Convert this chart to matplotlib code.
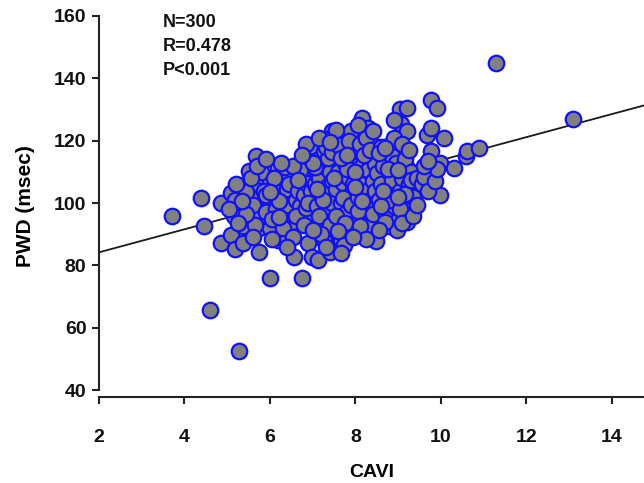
import matplotlib.pyplot as plt

plt.rcParams['font.family'] = ['Liberation Sans', 'DejaVu Sans']

# CAVI vs PWD
cavi = [
    3.70, 4.38, 4.45, 4.60, 5.27, 4.86, 4.86, 5.10, 5.17, 5.10, 5.18, 5.19, 5.37, 5.37, 5.37,
    5.50, 5.50, 5.67, 5.67, 5.74, 5.74, 5.74, 5.77, 5.82, 5.53, 5.58, 5.99, 5.99, 5.99, 6.06,
    5.97, 6.19, 6.19, 6.25, 6.25, 6.38, 6.49, 6.49, 6.51, 6.51, 6.57, 6.57, 6.76, 6.76, 6.76,
    6.76, 6.88, 6.90, 6.93, 6.98, 6.99, 6.99, 7.02, 7.09, 7.12, 7.15, 7.20, 7.22, 7.26, 7.26,
    7.26, 7.36, 7.41, 7.41, 7.46, 7.48, 7.51, 7.53, 7.58, 7.65, 7.65, 7.74, 7.82, 7.89, 7.89,
    7.89, 7.92, 7.96, 8.03, 8.08, 8.08, 8.15, 8.15, 8.21, 8.30, 8.30, 8.32, 8.37, 8.42, 8.42,
    8.47, 8.47, 8.50, 8.52, 8.76, 8.79, 8.79, 8.90, 8.95, 8.98, 8.98, 8.98, 8.98, 9.05, 9.07,
    9.14, 9.21, 9.21, 9.21, 9.24, 9.38, 9.72, 9.77, 9.77, 9.79, 9.67, 9.77, 9.91, 9.98, 9.98,
    10.06, 10.30, 10.59, 10.62, 10.88, 11.28, 13.09,
    5.45, 5.60, 5.85, 5.90, 5.65, 5.45, 5.80, 5.55, 5.90, 5.35,
    6.10, 6.15, 6.20, 6.30, 6.35, 6.40, 6.45, 6.05, 6.30, 6.40, 6.20, 6.10, 6.45, 6.35, 6.00,
    6.60, 6.65, 6.70, 6.75, 6.80, 6.85, 6.90, 6.95, 6.60, 6.70, 6.85, 6.95, 6.55, 6.80, 6.90, 6.65,
    7.05, 7.10, 7.15, 7.20, 7.25, 7.30, 7.35, 7.40, 7.45, 7.05, 7.15, 7.25, 7.35, 7.45, 7.10,
    7.30, 7.40, 7.20, 7.45, 7.00,
    7.55, 7.60, 7.65, 7.70, 7.75, 7.80, 7.85, 7.90, 7.95, 7.55, 7.60, 7.70, 7.80, 7.90, 7.95,
    7.65, 7.75, 7.85, 7.50, 7.60,
    8.05, 8.10, 8.15, 8.20, 8.25, 8.30, 8.35, 8.40, 8.45, 8.05, 8.10, 8.20, 8.30, 8.40, 8.45,
    8.00, 8.15, 8.25, 8.35, 8.50, 8.00,
    8.55, 8.60, 8.65, 8.70, 8.75, 8.80, 8.85, 8.90, 8.95, 8.60, 8.70, 8.80, 8.85, 8.95, 8.65,
    8.55, 8.90, 8.75,
    9.05, 9.10, 9.15, 9.20, 9.25, 9.30, 9.35, 9.05, 9.10, 9.20, 9.15, 9.30, 9.00, 9.45, 9.10, 9.25,
    9.55, 9.60, 9.70, 9.85, 9.90,
    5.05, 5.20, 5.25,
    6.25, 7.00, 7.30, 8.10, 6.55, 8.60, 9.00, 7.80, 6.85, 7.55, 8.40, 8.90, 9.60, 5.70, 6.05,
    7.15, 8.25, 7.95, 9.35, 6.40, 5.90, 7.65, 8.70, 9.45, 6.75, 8.05, 7.40, 6.20, 5.60, 8.55, 9.70,
]
pwd = [
    95.7, 101.6, 92.7, 65.7, 52.5, 100.0, 87.1, 103.2, 95.7, 89.8, 85.2, 101.1, 92.5, 87.1, 105.9,
    110.2, 97.9, 115.0, 105.4, 84.4, 91.9, 95.7, 101.1, 108.6, 102.1, 95.7, 106.5, 91.9, 75.9, 100.0,
    101.1, 111.3, 88.2, 107.5, 94.1, 88.2, 103.2, 98.4, 91.4, 93.8, 107.5, 82.6, 75.9, 112.9, 105.9,
    96.8, 116.1, 87.1, 101.1, 118.2, 97.3, 82.8, 109.1, 103.2, 81.8, 114.0, 94.6, 91.4, 116.6, 109.1,
    88.2, 102.1, 103.2, 84.4, 123.0, 121.4, 94.1, 112.9, 98.9, 88.2, 103.2, 86.6, 106.5, 123.0, 112.9,
    91.9, 100.0, 103.8, 116.6, 109.6, 95.7, 127.3, 90.3, 107.5, 124.1, 120.9, 115.5, 98.9, 118.2, 102.1,
    87.7, 108.6, 95.7, 114.0, 118.2, 105.4, 92.5, 101.6, 118.8, 116.6, 111.8, 94.6, 91.4, 130.0, 125.2,
    96.8, 130.5, 123.0, 111.3, 96.8, 104.9, 106.5, 133.2, 116.6, 109.6, 121.9, 124.1, 130.5, 112.9, 102.7,
    120.9, 111.3, 115.0, 116.6, 117.7, 145.0, 127.1,
    103.5, 99.5, 104.0, 97.0, 93.0, 96.5, 110.0, 108.0, 102.5, 100.5,
    103.0, 98.0, 105.5, 101.0, 96.5, 104.5, 109.0, 95.0, 92.0, 99.5, 100.5, 108.0, 106.0, 111.5, 103.5,
    101.0, 104.0, 99.0, 109.0, 102.5, 106.5, 113.0, 95.0, 96.0, 110.5, 98.5, 104.0, 112.0, 93.0, 100.0, 107.5,
    106.0, 99.0, 108.0, 103.0, 112.0, 97.0, 105.5, 110.0, 100.0, 111.5, 96.0, 101.0, 114.5, 107.0, 104.5,
    118.0, 93.0, 90.0, 116.5, 113.0,
    104.5, 110.0, 100.0, 106.5, 113.0, 97.0, 108.0, 103.0, 117.0, 96.0, 118.5, 101.5, 111.0, 99.5, 106.0,
    114.5, 93.5, 120.0, 108.0, 91.0,
    102.0, 106.0, 112.0, 98.0, 104.0, 110.5, 101.0, 107.0, 112.5, 97.5, 119.0, 115.5, 93.0, 96.5, 104.0,
    110.0, 100.5, 121.0, 117.0, 109.5, 105.0,
    101.0, 106.0, 112.0, 97.0, 103.5, 109.5, 115.0, 99.0, 106.0, 118.0, 94.0, 101.0, 107.5, 113.0, 104.0,
    116.0, 121.0, 111.0,
    104.0, 108.0, 114.0, 100.0, 106.0, 110.0, 102.0, 98.0, 119.0, 94.0, 103.0, 107.5, 110.5, 108.0, 93.5, 117.0,
    106.0, 108.5, 104.0, 107.0, 111.0,
    98.0, 106.0, 93.5,
    113.0, 91.5, 86.0, 92.5, 89.0, 99.0, 102.0, 115.5, 119.0, 123.5, 123.0, 126.5, 112.0, 112.0, 88.5,
    121.0, 88.5, 89.0, 96.0, 86.0, 114.0, 84.0, 117.5, 99.5, 115.5, 125.0, 119.5, 95.5, 89.0, 91.5, 113.5,
]

# regression line end points
fit_x = [2.0, 14.75]
fit_y = [84.2, 131.3]

stats_lines = ['N=300', 'R=0.478', 'P<0.001']
x_ticks = [2, 4, 6, 8, 10, 12, 14]
y_ticks = [40, 60, 80, 100, 120, 140, 160]

fig = plt.figure(figsize=(6.44, 4.83), dpi=100)
ax = fig.add_axes([0.1537, 0.178, 0.8463, 0.789])

ax.plot(fit_x, fit_y, color='#1a1a1a', linewidth=1.3, zorder=1)
ax.scatter(cavi, pwd, s=125, facecolor='#808080', edgecolor='#1010ff', linewidth=1.6, zorder=2)

ax.set_xlim(2, 14.75)
ax.set_ylim(37.8, 160)
ax.set_xticks(x_ticks)
ax.set_yticks(y_ticks)

for s in ['top', 'right']:
    ax.spines[s].set_visible(False)
ax.spines['left'].set_bounds(40, 160)
for s in ['left', 'bottom']:
    ax.spines[s].set_linewidth(1.5)
    ax.spines[s].set_color('#222222')

ax.tick_params(axis='both', direction='out', length=5, width=1.5, colors='#222222', labelcolor='#111111')
ax.tick_params(axis='x', pad=18, labelsize=14)
ax.tick_params(axis='y', pad=4, labelsize=14)
for lab in ax.get_xticklabels() + ax.get_yticklabels():
    lab.set_fontweight('bold')

ax.set_xlabel('CAVI', fontsize=14, fontweight='bold', labelpad=13)
ax.set_ylabel('PWD (msec)', fontsize=15, fontweight='bold', labelpad=14)

for i, t in enumerate(stats_lines):
    ax.text(163 / 644, 0.972 - i * 0.05, t, transform=fig.transFigure, fontsize=13,
            fontweight='bold', va='top', ha='left', color='#111111')

fig.savefig('out.png', dpi=100)
